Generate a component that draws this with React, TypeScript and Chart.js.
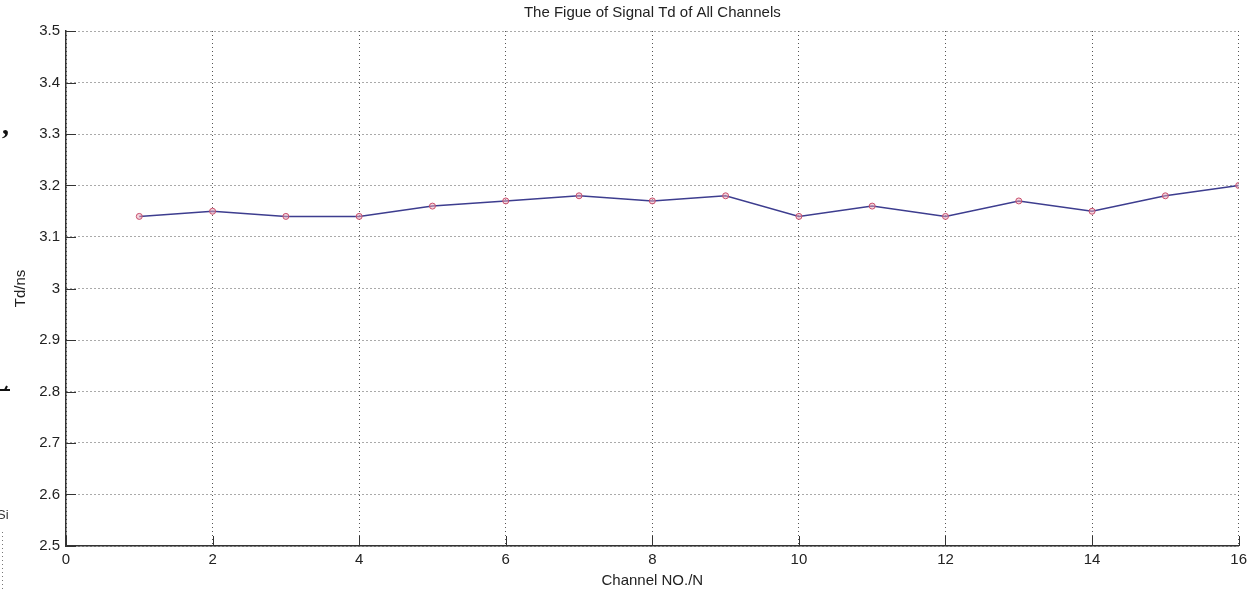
import React, { useEffect, useRef } from "react";
import { Chart, registerables } from "chart.js";

Chart.register(...registerables);

const channels = [1, 2, 3, 4, 5, 6, 7, 8, 9, 10, 11, 12, 13, 14, 15, 16];
const tdValues = [3.14, 3.15, 3.14, 3.14, 3.16, 3.17, 3.18, 3.17, 3.18, 3.14, 3.16, 3.14, 3.17, 3.15, 3.18, 3.2];
const xTickValues = [0, 2, 4, 6, 8, 10, 12, 14, 16];
const yTickValues = [2.5, 2.6, 2.7, 2.8, 2.9, 3.0, 3.1, 3.2, 3.3, 3.4, 3.5];
const chartTitle = "The Figue of Signal Td of All Channels";
const xAxisTitle = "Channel NO./N";
const yAxisTitle = "Td/ns";

const FONT = "'Liberation Sans', Arial, sans-serif";

const insideTicks = {
  id: "insideTicks",
  afterDraw(chart: any) {
    const { ctx, chartArea } = chart;
    const xs = chart.scales.x;
    const ys = chart.scales.y;
    ctx.save();
    ctx.strokeStyle = "#333";
    ctx.lineWidth = 1;
    ctx.beginPath();
    for (const v of yTickValues) {
      const y = Math.round(ys.getPixelForValue(v)) + 0.5;
      ctx.moveTo(chartArea.left, y);
      ctx.lineTo(chartArea.left + 10, y);
    }
    for (const v of xTickValues) {
      const x = Math.round(xs.getPixelForValue(v)) + 0.5;
      ctx.moveTo(x, chartArea.bottom);
      ctx.lineTo(x, chartArea.bottom - 10);
    }
    ctx.stroke();

    // stray marks from the source page at the left edge
    ctx.fillStyle = "#111";
    ctx.font = "bold 28px 'Liberation Serif', serif";
    ctx.textAlign = "left";
    ctx.textBaseline = "alphabetic";
    ctx.fillText(",", 2, 134);
    ctx.lineWidth = 2;
    ctx.strokeStyle = "#111";
    ctx.beginPath();
    ctx.moveTo(0, 390);
    ctx.lineTo(10, 390);
    ctx.moveTo(5, 390);
    ctx.lineTo(7, 386);
    ctx.stroke();
    ctx.fillStyle = "#333";
    ctx.font = "13px " + FONT;
    ctx.fillText("Si", -3, 519);
    ctx.fillStyle = "#777";
    for (let y = 532; y < 590; y += 4) {
      ctx.fillRect(2, y, 1, 1);
    }
    ctx.restore();
  },
};

export default function App() {
  const ref = useRef<HTMLCanvasElement | null>(null);

  useEffect(() => {
    document.body.style.margin = "0";
    const canvas = ref.current;
    if (!canvas) return;
    const gridFont = { family: FONT, size: 15 };
    const chart = new Chart(canvas, {
      type: "line",
      data: {
        datasets: [
          {
            label: yAxisTitle,
            data: channels.map((c, i) => ({ x: c, y: tdValues[i] })),
            borderColor: "#3d3d8f",
            borderWidth: 1.5,
            pointRadius: 3,
            pointBorderWidth: 1,
            pointBorderColor: "#c8506e",
            pointBackgroundColor: "rgba(235,170,185,0.5)",
            tension: 0,
            fill: false,
          },
        ],
      },
      options: {
        responsive: false,
        animation: false,
        devicePixelRatio: 1,
        layout: { padding: { left: 0, right: 9, top: 0, bottom: 0 } },
        plugins: {
          legend: { display: false },
          tooltip: { enabled: false },
          title: {
            display: true,
            text: chartTitle,
            fullSize: false,
            color: "#222",
            font: { family: FONT, size: 15, weight: "normal" },
            padding: { top: 4, bottom: 9 },
          },
        },
        scales: {
          x: {
            type: "linear",
            min: 0,
            max: 16,
            afterBuildTicks: (s: any) => {
              s.ticks = xTickValues.map((v) => ({ value: v }));
            },
            afterFit: (s: any) => {
              s.height = 44;
            },
            ticks: {
              color: "#222",
              font: gridFont,
              padding: 5,
              maxRotation: 0,
              autoSkip: false,
              callback: (v: any) => String(v),
            },
            grid: { color: "#555", lineWidth: 1, drawTicks: false },
            border: { display: true, color: "#333", width: 1.5, dash: [1, 3] },
            title: {
              display: true,
              text: xAxisTitle,
              color: "#222",
              font: gridFont,
              padding: { top: 4, bottom: 0 },
            },
          },
          y: {
            type: "linear",
            min: 2.5,
            max: 3.5,
            afterBuildTicks: (s: any) => {
              s.ticks = yTickValues.map((v) => ({ value: v }));
            },
            afterFit: (s: any) => {
              s.width = 66;
            },
            ticks: {
              color: "#222",
              font: gridFont,
              padding: 6,
              autoSkip: false,
              callback: (v: any) => String(Number(Number(v).toFixed(1))),
            },
            grid: { color: "#555", lineWidth: 1, drawTicks: false },
            border: { display: true, color: "#333", width: 1.5, dash: [1, 3] },
            title: {
              display: true,
              text: yAxisTitle,
              color: "#222",
              font: gridFont,
              padding: { top: 12, bottom: 0 },
            },
          },
        },
      },
      plugins: [insideTicks],
    } as any);
    return () => chart.destroy();
  }, []);

  return (
    <div style={{ position: "fixed", left: 0, top: 0, width: 1252, height: 590, background: "#fff" }}>
      <canvas ref={ref} width={1252} height={590} style={{ display: "block" }} />
    </div>
  );
}
